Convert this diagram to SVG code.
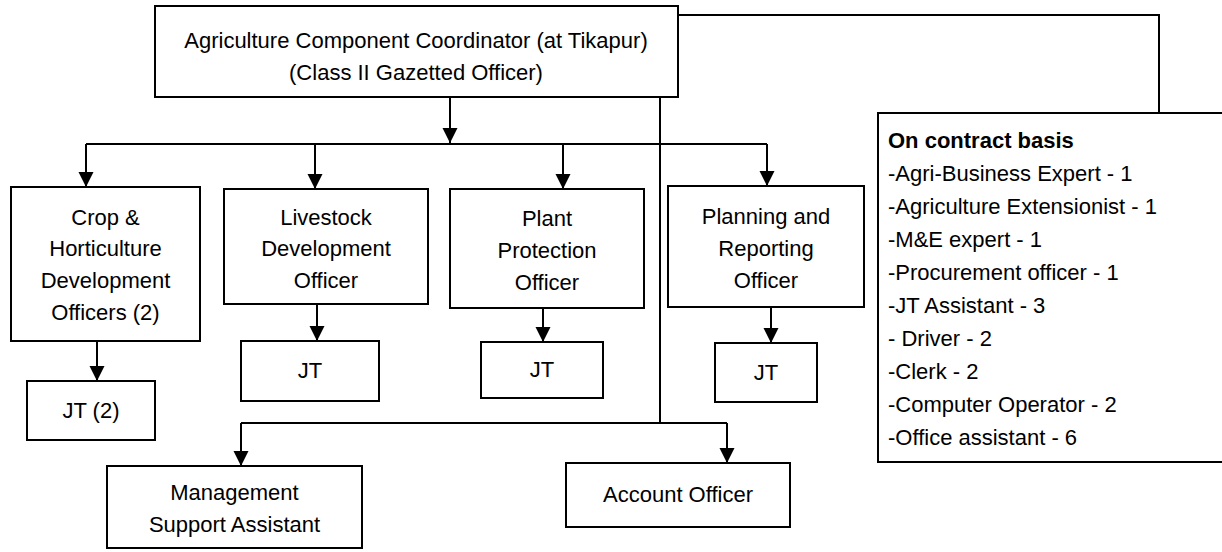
<svg xmlns="http://www.w3.org/2000/svg" width="1222" height="552" viewBox="0 0 1222 552">
<style>
.box{fill:#fff;stroke:#000;stroke-width:2}
.t{font-family:"Liberation Sans",Arial,sans-serif;font-size:22px;fill:#000;text-anchor:middle}
.l{font-family:"Liberation Sans",Arial,sans-serif;font-size:22px;fill:#000}
.b{font-weight:bold}
.c{fill:none;stroke:#000;stroke-width:2}
</style>
<defs>
<marker id="ah" markerUnits="userSpaceOnUse" markerWidth="16" markerHeight="16" refX="15" refY="7.5" orient="auto">
<path d="M0,0 L15,7.5 L0,15 z" fill="#000"/>
</marker>
</defs>
<rect width="1222" height="552" fill="#fff"/>
<g id="connectors">
<path class="c" d="M678,15 H1159 V113"/>
<path class="c" d="M450,97 V143" marker-end="url(#ah)"/>
<path class="c" d="M86,144 H767"/>
<path class="c" d="M86,144 V187" marker-end="url(#ah)"/>
<path class="c" d="M315,144 V189" marker-end="url(#ah)"/>
<path class="c" d="M563,144 V189" marker-end="url(#ah)"/>
<path class="c" d="M767,144 V186" marker-end="url(#ah)"/>
<path class="c" d="M97,341 V381" marker-end="url(#ah)"/>
<path class="c" d="M317,304 V341" marker-end="url(#ah)"/>
<path class="c" d="M543,308 V342" marker-end="url(#ah)"/>
<path class="c" d="M771,307 V343" marker-end="url(#ah)"/>
<path class="c" d="M660,97 V423"/>
<path class="c" d="M241,423 H727"/>
<path class="c" d="M241,423 V466" marker-end="url(#ah)"/>
<path class="c" d="M727,423 V463" marker-end="url(#ah)"/>
</g>
<g id="coordinator">
<rect class="box" x="155" y="6" width="523" height="91"/>
<text class="t" x="416" y="48">Agriculture Component Coordinator (at Tikapur)</text>
<text class="t" x="416" y="80">(Class II Gazetted Officer)</text>
</g>
<g id="contract">
<rect class="box" x="878" y="113" width="360" height="349"/>
<text class="l b" x="888" y="148">On contract basis</text>
<text class="l" x="888" y="181">-Agri-Business Expert - 1</text>
<text class="l" x="888" y="214">-Agriculture Extensionist - 1</text>
<text class="l" x="888" y="247">-M&amp;E expert - 1</text>
<text class="l" x="888" y="280">-Procurement officer - 1</text>
<text class="l" x="888" y="313">-JT Assistant - 3</text>
<text class="l" x="888" y="346">- Driver - 2</text>
<text class="l" x="888" y="379">-Clerk - 2</text>
<text class="l" x="888" y="412">-Computer Operator - 2</text>
<text class="l" x="888" y="445">-Office assistant - 6</text>
</g>
<g id="crop">
<rect class="box" x="11" y="187" width="189" height="154"/>
<text class="t" x="105.5" y="225">Crop &amp;</text>
<text class="t" x="105.5" y="256">Horticulture</text>
<text class="t" x="105.5" y="288">Development</text>
<text class="t" x="105.5" y="320">Officers (2)</text>
</g>
<g id="crop-jt">
<rect class="box" x="27" y="381" width="128" height="59"/>
<text class="t" x="91" y="418">JT (2)</text>
</g>
<g id="livestock">
<rect class="box" x="224" y="189" width="204" height="115"/>
<text class="t" x="326" y="225">Livestock</text>
<text class="t" x="326" y="256">Development</text>
<text class="t" x="326" y="288">Officer</text>
</g>
<g id="livestock-jt">
<rect class="box" x="241" y="341" width="138" height="60"/>
<text class="t" x="310" y="378">JT</text>
</g>
<g id="plant">
<rect class="box" x="450" y="189" width="194" height="119"/>
<text class="t" x="547" y="226">Plant</text>
<text class="t" x="547" y="258">Protection</text>
<text class="t" x="547" y="290">Officer</text>
</g>
<g id="plant-jt">
<rect class="box" x="481" y="342" width="122" height="56"/>
<text class="t" x="542" y="377">JT</text>
</g>
<g id="planning">
<rect class="box" x="668" y="186" width="196" height="121"/>
<text class="t" x="766" y="224">Planning and</text>
<text class="t" x="766" y="256">Reporting</text>
<text class="t" x="766" y="288">Officer</text>
</g>
<g id="planning-jt">
<rect class="box" x="715" y="343" width="102" height="59"/>
<text class="t" x="766" y="380">JT</text>
</g>
<g id="management">
<rect class="box" x="107" y="466" width="255" height="82"/>
<text class="t" x="234.5" y="500">Management</text>
<text class="t" x="234.5" y="532">Support Assistant</text>
</g>
<g id="account">
<rect class="box" x="566" y="463" width="224" height="64"/>
<text class="t" x="678" y="502">Account Officer</text>
</g>
</svg>
